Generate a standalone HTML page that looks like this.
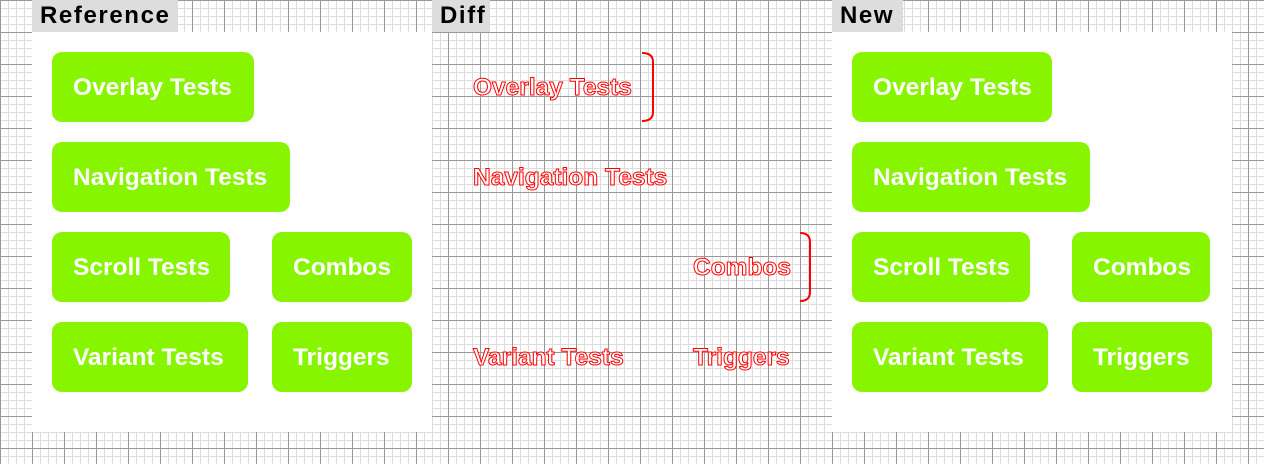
<!DOCTYPE html>
<html><head><style>
html,body{margin:0;padding:0}
body{width:1264px;height:464px;position:relative;overflow:hidden;font-family:"Liberation Sans",sans-serif;
background-color:#fff;
background-image:
linear-gradient(to right,#999 1px,transparent 1px),
linear-gradient(to bottom,#999 1px,transparent 1px),
linear-gradient(to right,#ddd 1px,transparent 1px),
linear-gradient(to bottom,#ddd 1px,transparent 1px);
background-size:32px 32px,32px 32px,8px 8px,8px 8px;}
.panel{position:absolute;top:32px;width:400px;height:400px;background:#fff}
.lbl{position:absolute;top:0;height:32px;background:#ddd;font-weight:bold;font-size:24px;line-height:32px;padding:0 0 0 8px;color:#000;letter-spacing:1.6px}
.b{position:absolute;height:70px;background:#88f500;border-radius:10px;color:#fff;font-weight:bold;font-size:24.5px;line-height:72px;padding-left:21px;box-sizing:border-box;white-space:nowrap}
.d{position:absolute;font-weight:bold;font-size:24.5px;line-height:72px;color:#fff;-webkit-text-stroke:1px #f00;height:70px;white-space:nowrap}
</style></head><body>
<div class="lbl" style="left:32px;width:138px">Reference</div>
<div class="lbl" style="left:432px;width:50px">Diff</div>
<div class="lbl" style="left:832px;width:63px">New</div>
<div class="panel" style="left:32px"></div>
<div class="panel" style="left:832px"></div>

<div class="b" style="left:52px;top:52px;width:202px">Overlay Tests</div>
<div class="b" style="left:52px;top:142px;width:238px">Navigation Tests</div>
<div class="b" style="left:52px;top:232px;width:178px">Scroll Tests</div>
<div class="b" style="left:272px;top:232px;width:140px">Combos</div>
<div class="b" style="left:52px;top:322px;width:196px">Variant Tests</div>
<div class="b" style="left:272px;top:322px;width:140px">Triggers</div>

<div class="d" style="left:473px;top:52px">Overlay Tests</div>
<div class="d" style="left:473px;top:142px">Navigation Tests</div>
<div class="d" style="left:693px;top:232px">Combos</div>
<div class="d" style="left:473px;top:322px">Variant Tests</div>
<div class="d" style="left:693px;top:322px">Triggers</div>
<svg style="position:absolute;left:0;top:0" width="1264" height="464">
<path d="M642 53 Q653 53 653 62 L653 112 Q653 121 642 121" fill="none" stroke="#f00" stroke-width="2"/>
<path d="M800 233 Q810 233 810 242 L810 292 Q810 301 800 301" fill="none" stroke="#f00" stroke-width="2"/>
</svg>

<div class="b" style="left:852px;top:52px;width:200px">Overlay Tests</div>
<div class="b" style="left:852px;top:142px;width:238px">Navigation Tests</div>
<div class="b" style="left:852px;top:232px;width:178px">Scroll Tests</div>
<div class="b" style="left:1072px;top:232px;width:138px">Combos</div>
<div class="b" style="left:852px;top:322px;width:196px">Variant Tests</div>
<div class="b" style="left:1072px;top:322px;width:140px">Triggers</div>
</body></html>
